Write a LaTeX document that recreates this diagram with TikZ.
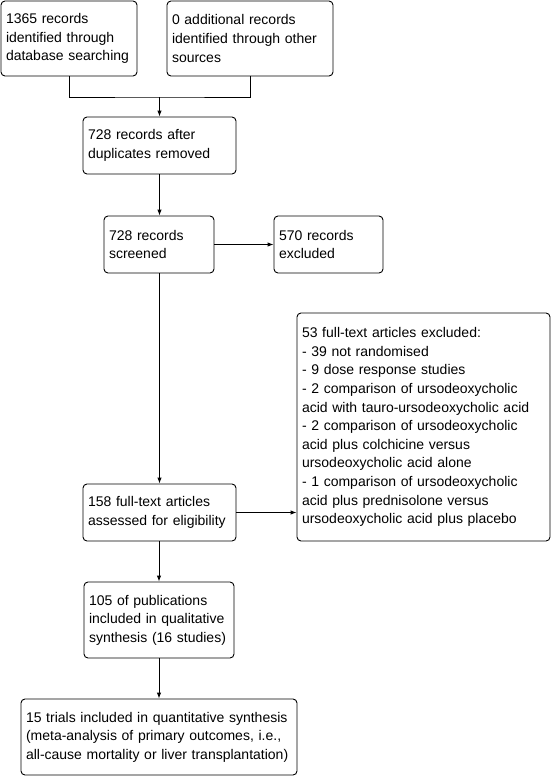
\documentclass[tikz,border=0pt]{standalone}
\usepackage{fontspec}
\setmainfont{Liberation Sans}
\usetikzlibrary{arrows.meta}
\begin{document}
\begin{tikzpicture}[x=1pt,y=-1pt,
  box/.style={draw, rounded corners=4pt, line width=0.9pt, align=left, inner xsep=5pt, inner ysep=0pt, font=\fontsize{14}{18.6}\selectfont},
  arr/.style={-{Latex[length=6pt,width=4.5pt]}, line width=0.9pt},
  ln/.style={line width=0.9pt}]
\useasboundingbox (0,0) rectangle (551,776);
\node[box, minimum width=136pt, minimum height=75pt, text width=126pt] (A) at (69,38.5)
  {1365 records\\identified through\\database searching};
\node[box, minimum width=166pt, minimum height=75pt, text width=156pt] (B) at (250,38.5)
  {0 additional records\\identified through other\\sources};
\node[box, minimum width=153pt, minimum height=57pt, text width=143pt] (C) at (159.5,145.5)
  {728 records after\\duplicates removed};
\node[box, minimum width=110pt, minimum height=57pt, text width=100pt] (D) at (159,244.5)
  {728 records\\screened};
\node[box, minimum width=109pt, minimum height=57pt, text width=99pt] (E) at (328.5,244.5)
  {570 records\\excluded};
\node[box, minimum width=253pt, minimum height=228pt, text width=243pt] (F) at (423.5,427)
  {53 full-text articles excluded:\\- 39 not randomised\\- 9 dose response studies\\- 2 comparison of ursodeoxycholic\\acid with tauro-ursodeoxycholic acid\\- 2 comparison of ursodeoxycholic\\acid plus colchicine versus\\ursodeoxycholic acid alone\\- 1 comparison of ursodeoxycholic\\acid plus prednisolone versus\\ursodeoxycholic acid plus placebo};
\node[box, minimum width=153pt, minimum height=57pt, text width=143pt] (G) at (159.5,512.5)
  {158 full-text articles\\assessed for eligibility};
\node[box, minimum width=150pt, minimum height=76pt, text width=140pt] (H) at (159,620)
  {105 of publications\\included in qualitative\\synthesis (16 studies)};
\node[box, minimum width=276pt, minimum height=76pt, text width=266pt] (I) at (159,737)
  {15 trials included in quantitative synthesis\\(meta-analysis of primary outcomes, i.e.,\\all-cause mortality or liver transplantation)};
\coordinate (m) at (159.5,97);
\draw[ln] (A.south) |- (m) -| (B.south);
\draw[arr] (m) -- (C.north);
\draw[arr] (C.south) -- (D.north -| C.south);
\draw[arr] (D.east) -- (E.west);
\draw[arr] (D.south -| G.north) -- (G.north);
\draw[arr] (G.east) -- (F.west |- G.east);
\draw[arr] (G.south -| H.north) -- (H.north);
\draw[arr] (H.south) -- (I.north);
\end{tikzpicture}
\end{document}
